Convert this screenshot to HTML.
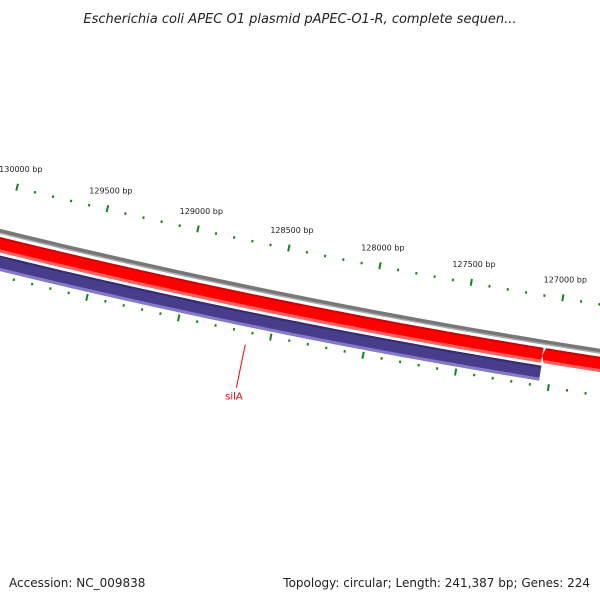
<!DOCTYPE html>
<html><head><meta charset="utf-8">
<style>
html,body{margin:0;padding:0;background:#fff;}
svg{display:block;font-family:"DejaVu Sans","Liberation Sans",sans-serif;}
</style></head>
<body>
<svg id="map" width="600" height="600" viewBox="0 0 600 600">
<text x="300" y="23" text-anchor="middle" font-size="13" font-style="italic" fill="#222">Escherichia coli APEC O1 plasmid pAPEC-O1-R, complete sequen...</text>
<text x="9" y="587" font-size="12" fill="#222">Accession: NC_009838</text>
<text x="590" y="587" text-anchor="end" font-size="12" fill="#222">Topology: circular; Length: 241,387 bp; Genes: 224</text>
<g id="layer"></g>
</svg>
<script>
// data
const majorTicks = [126500,127000,127500,128000,128500,129000,129500,130000,130500];
const minorStep = 100;
const redFeatureStarts = [127060, 125500];
const redFeatureEnds = [131500, 127045];
const blueFeatureStarts = [127055];
const blueFeatureEnds = [131500];
const geneLabels = ['silA'];
const geneLabelBps = [128625];

const CX = 1670, CY = -6567, A0 = 1.8108, K = 2.67e-5, REF = 130000;
const NS = 'http://www.w3.org/2000/svg';
const layer = document.getElementById('layer');
function ang(bp){ return A0 + (bp - REF) * K; }
function pt(bp, r){ const a = ang(bp); return [CX + r*Math.cos(a), CY + r*Math.sin(a)]; }
function mk(tag, attrs){ const e = document.createElementNS(NS, tag); for (const k in attrs) e.setAttribute(k, attrs[k]); layer.appendChild(e); return e; }
function band(b1, b2, r1, r2, fill, tipAtHigh){
  const pts = []; const n = 60;
  for (let i=0;i<=n;i++){ pts.push(pt(b1+(b2-b1)*i/n, r1)); }
  if (tipAtHigh){ pts.push(pt(b2+15, (r1+r2)/2)); }
  for (let i=n;i>=0;i--){ pts.push(pt(b1+(b2-b1)*i/n, r2)); }
  return mk('polygon', {points: pts.map(p=>p[0].toFixed(2)+','+p[1].toFixed(2)).join(' '), fill: fill});
}

// backbone
let e = band(125000, 132000, 6998, 7002, '#777');  
e = band(125000, 132000, 7001.5, 7003, '#aaa');  

// red features
for (let i=0;i<redFeatureStarts.length;i++){
  const tip = i === 1;
  let b = band(redFeatureStarts[i], redFeatureEnds[i], 7006, 7021, '#ff0000', tip);
  
  
  b = band(redFeatureStarts[i], redFeatureEnds[i], 7006, 7008, '#cc0000', false);
  
  
  b = band(redFeatureStarts[i], redFeatureEnds[i], 7018, 7021, '#ff6060', false);
  
  
}
// blue features
for (let i=0;i<blueFeatureStarts.length;i++){
  let b = band(blueFeatureStarts[i], blueFeatureEnds[i], 7024, 7039, '#483d8b', false);
  
  
  b = band(blueFeatureStarts[i], blueFeatureEnds[i], 7024, 7026, '#352c6e', false);
  
  
  b = band(blueFeatureStarts[i], blueFeatureEnds[i], 7036, 7039, '#8878c8', false);
  
  
}

// ticks
const lo = majorTicks[0], hi = majorTicks[majorTicks.length-1];
for (let bp = lo; bp <= hi; bp += minorStep){
  const major = majorTicks.indexOf(bp) >= 0;
  const rs = major ? [[6950,6957],[7041,7048]] : [[6953,6955.5],[7043,7045.5]];
  rs.forEach((r, j) => {
    const p1 = pt(bp, r[0]), p2 = pt(bp, r[1]);
    const l = mk('line', {x1:p1[0], y1:p1[1], x2:p2[0], y2:p2[1], stroke:'#118811', 'stroke-width':2});
    
    
  });
}
majorTicks.forEach(bp => {
  const p = pt(bp, 6938);
  const t = mk('text', {x:p[0], y:p[1], 'text-anchor':'middle', 'font-size':8, fill:'#222'});
  t.textContent = bp + ' bp';
  
  
});

// gene labels
geneLabels.forEach((name, i) => {
  const p1 = pt(geneLabelBps[i], 7057), p2 = pt(geneLabelBps[i], 7101);
  const l = mk('line', {x1:p1[0], y1:p1[1], x2:p2[0], y2:p2[1], stroke:'#ff0000', 'stroke-width':1});
  
  
  const p = pt(geneLabelBps[i], 7113);
  const t = mk('text', {x:p[0], y:p[1], 'text-anchor':'middle', 'font-size':10, fill:'#ff0000'});
  t.textContent = name;
  
  
});
</script>
</body></html>
